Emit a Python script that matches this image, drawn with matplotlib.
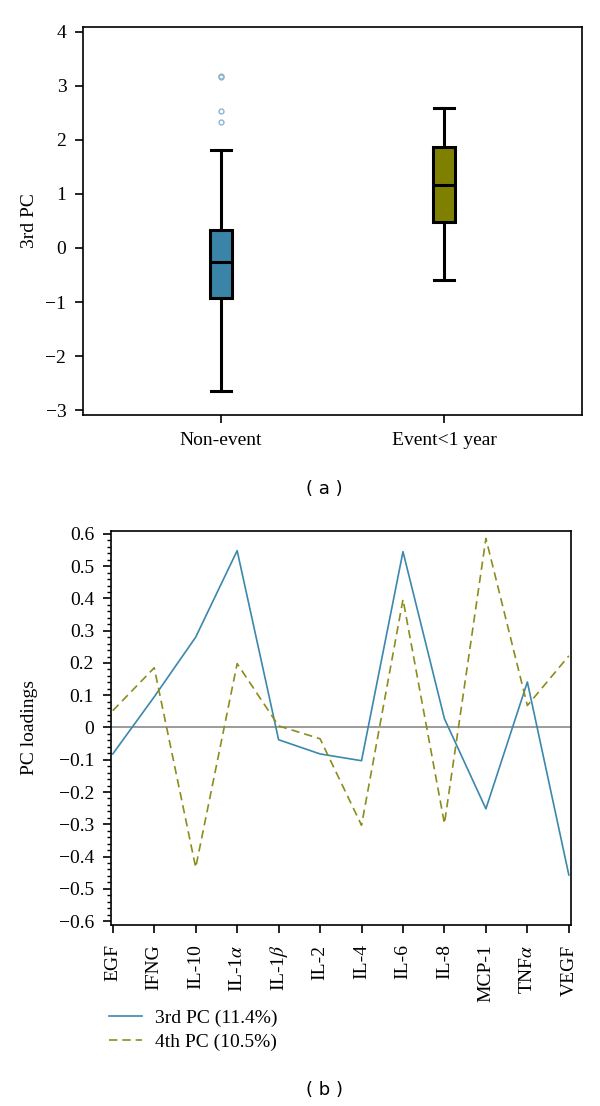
import matplotlib
matplotlib.use("Agg")
import matplotlib.pyplot as plt
from matplotlib.ticker import MultipleLocator

# panel (a): box plot summary of 3rd PC
groups = ["Non-event", "Event<1 year"]
q1 = [-0.92, 0.48]
med = [-0.25, 1.16]
q3 = [0.33, 1.86]
wlo = [-2.65, -0.60]
whi = [1.82, 2.60]
fliers = [[3.19, 3.17, 2.53, 2.33], []]
box_colors = ["#3a84a8", "#808000"]

# panel (b): PC loadings
markers = ["EGF", "IFNG", "IL-10", r"IL-1$\alpha$", r"IL-1$\beta$", "IL-2", "IL-4",
           "IL-6", "IL-8", "MCP-1", r"TNF$\alpha$", "VEGF"]
pc3 = [-0.082, 0.095, 0.28, 0.548, -0.038, -0.082, -0.103, 0.545, 0.027, -0.252, 0.141, -0.457]
pc4 = [0.052, 0.185, -0.434, 0.198, 0.005, -0.035, -0.303, 0.397, -0.298, 0.586, 0.068, 0.222]

plt.rcParams['font.family'] = ['Liberation Serif', 'DejaVu Serif']
plt.rcParams['mathtext.fontset'] = 'stix'
fs = 14

fig = plt.figure(figsize=(6, 11.06), dpi=100)

#%% panel a
ax1 = fig.add_axes([0.1383, 0.6248, 0.8317, 0.3508])
stats = []
for i in range(len(groups)):
    stats.append(dict(med=med[i], q1=q1[i], q3=q3[i], whislo=wlo[i], whishi=whi[i],
                      fliers=fliers[i], label=groups[i]))
bp = ax1.bxp(stats, positions=[1, 2], widths=0.1, patch_artist=True,
             boxprops=dict(linewidth=2.2, edgecolor='black'),
             medianprops=dict(color='black', linewidth=2.2),
             whiskerprops=dict(color='black', linewidth=2.2),
             capprops=dict(color='black', linewidth=2.2),
             flierprops=dict(marker='o', markersize=3.5, markerfacecolor='none',
                             markeredgecolor='#8fb3cf', markeredgewidth=1))
for patch, c in zip(bp['boxes'], box_colors):
    patch.set_facecolor(c)
for cap in bp['caps']:
    m = cap.get_xdata().mean()
    cap.set_xdata([m - 0.045, m + 0.045])
ax1.set_xlim(0.381, 2.619)
ax1.set_ylim(-3.09, 4.09)
ax1.set_yticks(range(-3, 5))
ax1.set_yticklabels([str(v).replace('-', '\u2212') for v in range(-3, 5)])
ax1.set_ylabel("3rd PC", fontsize=fs)
ax1.yaxis.set_label_coords(-0.090, 0.5)
ax1.tick_params(axis='both', labelsize=fs, direction='out', length=6, width=1.2,
                pad=6, top=False, right=False)
for s in ax1.spines.values():
    s.set_linewidth(1.2)
fig.text(324 / 600, 1 - 489 / 1106, "( a )", ha='center', va='center', fontsize=13,
         family='DejaVu Sans')

#%% panel b
ax2 = fig.add_axes([0.1845, 0.1637, 0.767, 0.3562])
x = list(range(len(markers)))
ax2.axhline(0, color='#8a8a8a', linewidth=1.2)
ax2.plot(x, pc3, color='#3b87ad', linewidth=1.2, label="3rd PC (11.4%)")
ax2.plot(x, pc4, color='#8c8c1e', linewidth=1.2, linestyle=(0, (5, 3)), label="4th PC (10.5%)")
ax2.set_xlim(-0.05, 11.05)
ax2.set_ylim(-0.612, 0.609)
ax2.set_xticks(x)
ax2.set_xticklabels(markers, rotation=90)
yt = [round(-0.6 + 0.1 * i, 1) for i in range(13)]
ax2.set_yticks(yt)
ax2.set_yticklabels([('0' if v == 0 else f"{v:.1f}").replace('-', '\u2212') for v in yt])
ax2.yaxis.set_minor_locator(MultipleLocator(0.02))
ax2.set_ylabel("PC loadings", fontsize=fs)
ax2.yaxis.set_label_coords(-0.158, 0.5)
ax2.tick_params(axis='both', which='major', labelsize=fs, direction='out', length=6,
                width=1.2, pad=6, top=False, right=False)
ax2.tick_params(axis='x', which='major', pad=8)
ax2.tick_params(axis='y', which='minor', direction='out', length=3, width=1, right=False)
for s in ax2.spines.values():
    s.set_linewidth(1.2)
fig.legend(loc='upper left', bbox_to_anchor=(109 / 600, 1 - 1009 / 1106), frameon=False,
           fontsize=fs, handlelength=1.7, handletextpad=0.67, borderaxespad=0,
           borderpad=0, labelspacing=0.34)
fig.text(324 / 600, 1 - 1090 / 1106, "( b )", ha='center', va='center', fontsize=13,
         family='DejaVu Sans')

fig.savefig("out.png", dpi=100)
